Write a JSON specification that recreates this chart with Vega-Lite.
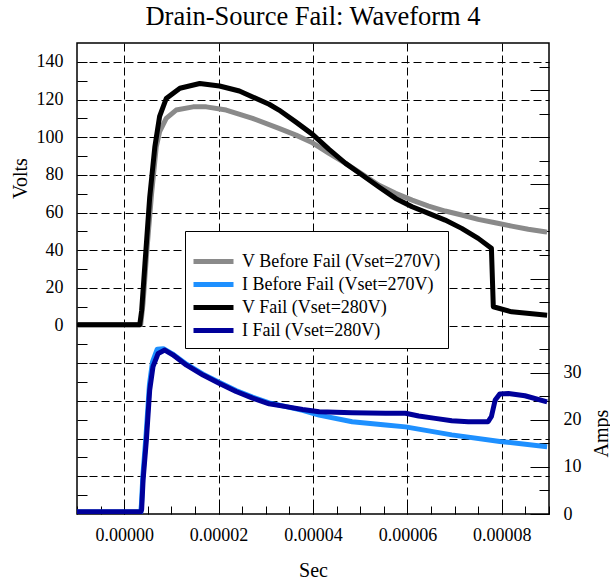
{
  "$schema": "https://vega.github.io/schema/vega-lite/v6.json",
  "width": 472,
  "height": 471,
  "autosize": "none",
  "padding": {"left": 77, "top": 43, "right": 61, "bottom": 69},
  "background": "white",
  "title": {"text": "Drain-Source Fail: Waveform 4", "font": "Liberation Serif", "fontSize": 26.5, "fontWeight": "normal", "color": "black", "offset": 13},
  "config": {
    "view": {"stroke": "black", "strokeWidth": 1.5},
    "axis": {"labelFont": "Liberation Serif", "titleFont": "Liberation Serif", "labelFontSize": 18, "titleFontSize": 20, "titleFontWeight": "normal", "labelColor": "black", "titleColor": "black", "tickColor": "black", "tickWidth": 1, "domain": false, "labelOverlap": false, "labelFlush": false, "labelBound": false}
  },
  "data": {"values": [
    {"s":"VB","t":-1e-5,"v":0.5},{"s":"VB","t":3.5e-6,"v":0.5},{"s":"VB","t":4.0e-6,"v":12},{"s":"VB","t":4.8e-6,"v":40},{"s":"VB","t":5.8e-6,"v":70},{"s":"VB","t":6.8e-6,"v":95},{"s":"VB","t":7.5e-6,"v":102.9},{"s":"VB","t":8.9e-6,"v":110},{"s":"VB","t":1.10e-5,"v":114.4},{"s":"VB","t":1.46e-5,"v":116.1},{"s":"VB","t":1.74e-5,"v":116.1},{"s":"VB","t":2.16e-5,"v":114.4},{"s":"VB","t":2.72e-5,"v":110},{"s":"VB","t":3.28e-5,"v":104.7},{"s":"VB","t":3.64e-5,"v":101.1},{"s":"VB","t":3.99e-5,"v":97},{"s":"VB","t":4.34e-5,"v":91.4},{"s":"VB","t":4.69e-5,"v":86.1},{"s":"VB","t":5.04e-5,"v":80.4},{"s":"VB","t":5.39e-5,"v":74.6},{"s":"VB","t":5.75e-5,"v":70.2},{"s":"VB","t":6.10e-5,"v":66.6},{"s":"VB","t":6.45e-5,"v":63.4},{"s":"VB","t":6.80e-5,"v":60.8},{"s":"VB","t":7.15e-5,"v":58.7},{"s":"VB","t":7.50e-5,"v":56.4},{"s":"VB","t":7.86e-5,"v":54.6},{"s":"VB","t":8.21e-5,"v":52.8},{"s":"VB","t":8.56e-5,"v":51.1},{"s":"VB","t":8.91e-5,"v":49.8},{"s":"VB","t":8.96e-5,"v":49.6},
    {"s":"VF","t":-1e-5,"v":0.5},{"s":"VF","t":3.3e-6,"v":0.5},{"s":"VF","t":3.7e-6,"v":8},{"s":"VF","t":4.4e-6,"v":33},{"s":"VF","t":5.4e-6,"v":68},{"s":"VF","t":6.5e-6,"v":95},{"s":"VF","t":7.5e-6,"v":111},{"s":"VF","t":8.9e-6,"v":120.5},{"s":"VF","t":1.18e-5,"v":126},{"s":"VF","t":1.60e-5,"v":128.5},{"s":"VF","t":2.02e-5,"v":127.2},{"s":"VF","t":2.44e-5,"v":124.5},{"s":"VF","t":3.07e-5,"v":117.5},{"s":"VF","t":3.28e-5,"v":114.4},{"s":"VF","t":3.64e-5,"v":108},{"s":"VF","t":3.99e-5,"v":101.5},{"s":"VF","t":4.34e-5,"v":93.5},{"s":"VF","t":4.69e-5,"v":86.1},{"s":"VF","t":5.04e-5,"v":79.9},{"s":"VF","t":5.39e-5,"v":73.7},{"s":"VF","t":5.75e-5,"v":67.5},{"s":"VF","t":6.10e-5,"v":63.1},{"s":"VF","t":6.45e-5,"v":59.6},{"s":"VF","t":6.80e-5,"v":56.0},{"s":"VF","t":7.15e-5,"v":51.6},{"s":"VF","t":7.50e-5,"v":46.3},{"s":"VF","t":7.78e-5,"v":41.0},{"s":"VF","t":7.82e-5,"v":10},{"s":"VF","t":8.21e-5,"v":7.3},{"s":"VF","t":8.91e-5,"v":5.6},{"s":"VF","t":8.96e-5,"v":5.5},
    {"s":"IB","t":-1e-5,"v":0.4},{"s":"IB","t":3.5e-6,"v":0.4},{"s":"IB","t":3.65e-6,"v":2},{"s":"IB","t":3.95e-6,"v":8},{"s":"IB","t":4.65e-6,"v":17},{"s":"IB","t":5.35e-6,"v":27.5},{"s":"IB","t":6.0e-6,"v":32.3},{"s":"IB","t":7.0e-6,"v":35.0},{"s":"IB","t":8.3e-6,"v":35.1},{"s":"IB","t":1.02e-5,"v":34.0},{"s":"IB","t":1.32e-5,"v":31.8},{"s":"IB","t":1.67e-5,"v":29.7},{"s":"IB","t":2.02e-5,"v":27.9},{"s":"IB","t":2.37e-5,"v":26.2},{"s":"IB","t":2.72e-5,"v":24.8},{"s":"IB","t":3.07e-5,"v":23.6},{"s":"IB","t":3.43e-5,"v":22.8},{"s":"IB","t":3.78e-5,"v":22.0},{"s":"IB","t":4.13e-5,"v":21.0},{"s":"IB","t":4.83e-5,"v":19.6},{"s":"IB","t":5.54e-5,"v":18.9},{"s":"IB","t":5.96e-5,"v":18.5},{"s":"IB","t":6.94e-5,"v":16.8},{"s":"IB","t":7.96e-5,"v":15.4},{"s":"IB","t":8.96e-5,"v":14.3},
    {"s":"IF","t":-1e-5,"v":0.5},{"s":"IF","t":3.57e-6,"v":0.5},{"s":"IF","t":3.7e-6,"v":1},{"s":"IF","t":4.0e-6,"v":7.2},{"s":"IF","t":4.7e-6,"v":15.7},{"s":"IF","t":5.4e-6,"v":26.3},{"s":"IF","t":6.1e-6,"v":31.3},{"s":"IF","t":7.2e-6,"v":34.1},{"s":"IF","t":8.6e-6,"v":34.8},{"s":"IF","t":1.03e-5,"v":33.8},{"s":"IF","t":1.32e-5,"v":31.6},{"s":"IF","t":1.67e-5,"v":29.5},{"s":"IF","t":2.02e-5,"v":27.7},{"s":"IF","t":2.37e-5,"v":26.0},{"s":"IF","t":2.72e-5,"v":24.6},{"s":"IF","t":3.07e-5,"v":23.4},{"s":"IF","t":3.43e-5,"v":22.8},{"s":"IF","t":3.78e-5,"v":22.2},{"s":"IF","t":4.13e-5,"v":21.7},{"s":"IF","t":4.83e-5,"v":21.5},{"s":"IF","t":5.54e-5,"v":21.4},{"s":"IF","t":5.96e-5,"v":21.4},{"s":"IF","t":6.24e-5,"v":20.8},{"s":"IF","t":6.59e-5,"v":20.3},{"s":"IF","t":6.94e-5,"v":19.8},{"s":"IF","t":7.29e-5,"v":19.6},{"s":"IF","t":7.71e-5,"v":19.6},{"s":"IF","t":7.78e-5,"v":20.7},{"s":"IF","t":7.86e-5,"v":24.2},{"s":"IF","t":7.96e-5,"v":25.5},{"s":"IF","t":8.14e-5,"v":25.6},{"s":"IF","t":8.49e-5,"v":25.1},{"s":"IF","t":8.96e-5,"v":23.8}
  ]},
  "encoding": {
    "x": {"field": "t", "type": "quantitative",
      "scale": {"domain": [-0.00001, 0.00009], "nice": false, "zero": false},
      "axis": {"title": "Sec", "format": ".5f",
        "values": [-0.00001, -0.000005, 0, 0.000005, 0.00001, 0.000015, 0.00002, 0.000025, 0.00003, 0.000035, 0.00004, 0.000045, 0.00005, 0.000055, 0.00006, 0.000065, 0.00007, 0.000075, 0.00008, 0.000085, 0.00009],
        "labelExpr": "abs(datum.value*50000 - round(datum.value*50000)) < 0.001 ? datum.label : ''",
        "grid": true, "gridColor": "black", "gridDash": [8, 4], "gridWidth": 1,
        "gridOpacity": {"condition": {"test": "abs(datum.value*50000 - round(datum.value*50000)) < 0.001", "value": 1}, "value": 0},
        "tickSize": -8, "labelPadding": 20,
        "titleX": 236, "titleY": 62, "titleAlign": "center", "titleBaseline": "alphabetic"}
    },
    "color": {"field": "s", "type": "nominal",
      "scale": {"domain": ["VB", "IB", "VF", "IF"], "range": ["#8a8a8a", "#1e90ff", "#000000", "#00009a"]},
      "legend": {"orient": "none", "legendX": 108, "legendY": 188, "title": " ", "titleFontSize": 10, "titlePadding": 1,
        "labelExpr": "datum.label == 'VB' ? 'V Before Fail (Vset=270V)' : datum.label == 'IB' ? 'I Before Fail (Vset=270V)' : datum.label == 'VF' ? 'V Fail (Vset=280V)' : 'I Fail (Vset=280V)'",
        "symbolType": "M-2,0H2", "symbolSize": 400, "symbolStrokeWidth": 5, "symbolOffset": 9,
        "labelOffset": 16, "labelFont": "Liberation Serif", "labelFontSize": 18, "labelColor": "black", "labelLimit": 400,
        "fillColor": "white", "strokeColor": "black", "padding": 7, "rowPadding": -1.3}
    }
  },
  "layer": [
    {
      "encoding": {
        "y": {"field": "v", "type": "quantitative",
          "scale": {"domain": [-100, 150], "nice": false, "zero": false},
          "axis": {"orient": "left", "title": "Volts",
            "values": [-90, -80, -70, -60, -50, -40, -30, -20, -10, 0, 10, 20, 30, 40, 50, 60, 70, 80, 90, 100, 110, 120, 130, 140],
            "labelExpr": "datum.value >= 0 && datum.value % 20 == 0 ? datum.label : ''",
            "grid": true, "gridColor": "black", "gridDash": [8, 4], "gridWidth": 1,
            "gridOpacity": {"condition": {"test": "datum.value % 20 == 0", "value": 1}, "value": 0},
            "tickSize": -10, "labelPadding": 24,
            "titleAngle": -90, "titleX": -57, "titleY": 135, "titleAlign": "center", "titleBaseline": "middle"}
        }
      },
      "layer": [
        {"transform": [{"filter": "datum.s == 'VB'"}], "mark": {"type": "line", "strokeWidth": 5, "strokeJoin": "round", "clip": true}},
        {"transform": [{"filter": "datum.s == 'VF'"}], "mark": {"type": "line", "strokeWidth": 5, "strokeJoin": "round", "clip": true}}
      ]
    },
    {
      "encoding": {
        "y": {"field": "v", "type": "quantitative",
          "scale": {"domain": [0, 100], "nice": false, "zero": false},
          "axis": {"orient": "right", "title": "Amps",
            "values": [0, 5, 10, 15, 20, 25, 30, 35, 40, 45, 50, 55, 60, 65, 70, 75, 80, 85, 90, 95],
            "labelExpr": "datum.value <= 30 && datum.value % 10 == 0 ? datum.label : ''",
            "grid": false,
            "tickSize": {"condition": {"test": "datum.value % 10 == 0", "value": -19}, "value": -10},
            "labelPadding": 33,
            "titleAngle": -90, "titleX": 52, "titleY": 390, "titleAlign": "center", "titleBaseline": "middle"}
        }
      },
      "layer": [
        {"transform": [{"filter": "datum.s == 'IB'"}], "mark": {"type": "line", "strokeWidth": 5, "strokeJoin": "round", "clip": true}},
        {"transform": [{"filter": "datum.s == 'IF'"}], "mark": {"type": "line", "strokeWidth": 5, "strokeJoin": "round", "clip": true}}
      ]
    }
  ],
  "resolve": {"scale": {"y": "independent"}}
}
